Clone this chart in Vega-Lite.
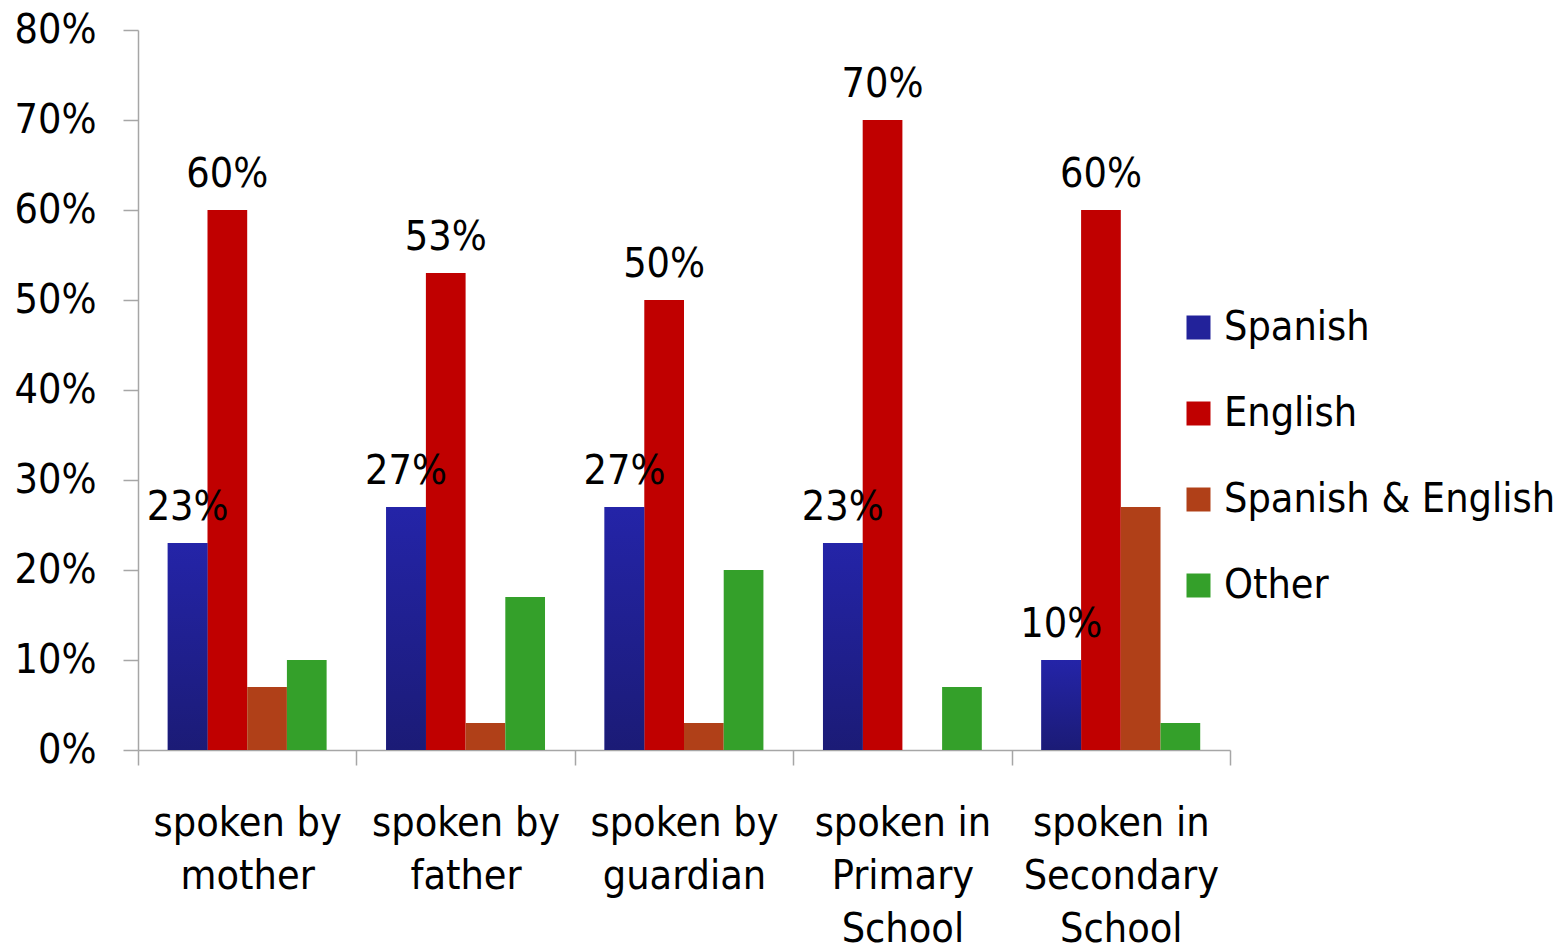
{
  "$schema": "https://vega.github.io/schema/vega-lite/v6.json",
  "autosize": "none",
  "width": 1092,
  "height": 720,
  "padding": {"left": 138, "top": 30, "right": 326, "bottom": 202},
  "background": "white",
  "config": {
    "view": {"stroke": null},
    "font": "'DejaVu Sans Condensed', 'Liberation Sans', sans-serif",
    "axis": {"grid": false, "domainColor": "#a6a6a6", "tickColor": "#a6a6a6", "domainWidth": 1.5, "tickWidth": 1.5, "labelColor": "black", "labelFont": "'DejaVu Sans Condensed', 'Liberation Sans', sans-serif", "labelFontSize": 41, "labelLimit": 0, "title": null},
    "legend": {"labelFont": "'DejaVu Sans Condensed', 'Liberation Sans', sans-serif", "labelFontSize": 41, "labelColor": "black", "labelLimit": 0}
  },
  "data": {
    "values": [
      {"group": "spoken by\nmother", "language": "Spanish", "share": 0.23},
      {"group": "spoken by\nmother", "language": "English", "share": 0.60},
      {"group": "spoken by\nmother", "language": "Spanish & English", "share": 0.07},
      {"group": "spoken by\nmother", "language": "Other", "share": 0.10},
      {"group": "spoken by\nfather", "language": "Spanish", "share": 0.27},
      {"group": "spoken by\nfather", "language": "English", "share": 0.53},
      {"group": "spoken by\nfather", "language": "Spanish & English", "share": 0.03},
      {"group": "spoken by\nfather", "language": "Other", "share": 0.17},
      {"group": "spoken by\nguardian", "language": "Spanish", "share": 0.27},
      {"group": "spoken by\nguardian", "language": "English", "share": 0.50},
      {"group": "spoken by\nguardian", "language": "Spanish & English", "share": 0.03},
      {"group": "spoken by\nguardian", "language": "Other", "share": 0.20},
      {"group": "spoken in\nPrimary\nSchool", "language": "Spanish", "share": 0.23},
      {"group": "spoken in\nPrimary\nSchool", "language": "English", "share": 0.70},
      {"group": "spoken in\nPrimary\nSchool", "language": "Spanish & English", "share": 0.0},
      {"group": "spoken in\nPrimary\nSchool", "language": "Other", "share": 0.07},
      {"group": "spoken in\nSecondary\nSchool", "language": "Spanish", "share": 0.10},
      {"group": "spoken in\nSecondary\nSchool", "language": "English", "share": 0.60},
      {"group": "spoken in\nSecondary\nSchool", "language": "Spanish & English", "share": 0.27},
      {"group": "spoken in\nSecondary\nSchool", "language": "Other", "share": 0.03}
    ]
  },
  "encoding": {
    "x": {
      "field": "group", "type": "nominal", "sort": null,
      "scale": {"paddingInner": 0, "paddingOuter": 0},
      "axis": {"labelAngle": 0, "tickBand": "extent", "tickSize": 15, "labelPadding": 38, "labelLineHeight": 53, "labelExpr": "split(datum.label, '\\n')", "labelBaseline": "top"}
    },
    "xOffset": {
      "field": "language", "type": "nominal",
      "scale": {"domain": ["Spanish", "English", "Spanish & English", "Other"], "paddingInner": 0, "paddingOuter": 0.75}
    },
    "y": {
      "field": "share", "type": "quantitative",
      "scale": {"domain": [0, 0.8], "nice": false},
      "axis": {"values": [0, 0.1, 0.2, 0.3, 0.4, 0.5, 0.6, 0.7, 0.8], "format": ".0%", "tickSize": 15, "labelPadding": 27}
    }
  },
  "layer": [
    {
      "mark": {"type": "bar"},
      "encoding": {
        "color": {
          "field": "language", "type": "nominal",
          "scale": {"domain": ["Spanish", "English", "Spanish & English", "Other"], "range": ["#22229a", "#c00000", "#b04018", "#34a02a"]},
          "legend": {"title": null, "orient": "none", "legendX": 1040, "legendY": 277, "symbolType": "square", "symbolSize": 576, "symbolStrokeWidth": 0, "labelOffset": 5, "rowPadding": 44}
        }
      }
    },
    {
      "transform": [{"filter": "datum.language === 'Spanish'"}],
      "mark": {
        "type": "bar",
        "fill": {"gradient": "linear", "x1": 0, "y1": 0, "x2": 0, "y2": 1, "stops": [{"offset": 0, "color": "#2424a8"}, {"offset": 1, "color": "#1b1b76"}]}
      }
    },
    {
      "transform": [{"filter": "datum.language === 'Spanish' || datum.language === 'English'"}],
      "mark": {"type": "text", "baseline": "alphabetic", "align": "center", "dy": -23, "fontSize": 41, "font": "'DejaVu Sans Condensed', 'Liberation Sans', sans-serif", "color": "black"},
      "encoding": {"text": {"field": "share", "type": "quantitative", "format": ".0%"}}
    }
  ]
}
